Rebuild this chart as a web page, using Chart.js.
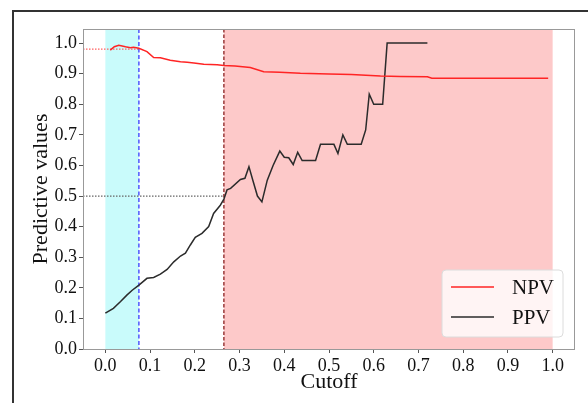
<!DOCTYPE html>
<html>
<head>
<meta charset="utf-8">
<script src="https://cdn.jsdelivr.net/npm/chart.js@4.4.1/dist/chart.umd.min.js"></script>
<style>
html, body { margin: 0; padding: 0; background: #fff; overflow: hidden; }
#frame { position: absolute; left: 12px; top: 10px; width: 700px; height: 500px; border: 2px solid #333; }
#chart { position: absolute; left: 0; top: 0; }
</style>
</head>
<body>
<div id="frame"></div>
<canvas id="chart" width="588" height="403"></canvas>
<script>
// values
const npvX = [0.011, 0.02, 0.03, 0.045, 0.056, 0.063, 0.075, 0.093, 0.108, 0.123, 0.145, 0.168, 0.183, 0.198, 0.22, 0.25, 0.265, 0.29, 0.324, 0.354, 0.39, 0.436, 0.5, 0.55, 0.615, 0.66, 0.72, 0.73, 0.8, 0.9, 0.99];
const npvY = [0.977, 0.988, 0.993, 0.988, 0.985, 0.986, 0.983, 0.972, 0.953, 0.952, 0.944, 0.939, 0.937, 0.935, 0.931, 0.929, 0.927, 0.925, 0.92, 0.906, 0.905, 0.901, 0.899, 0.897, 0.892, 0.891, 0.89, 0.885, 0.885, 0.885, 0.885];

const ppvX = [0.0, 0.018, 0.034, 0.048, 0.06, 0.075, 0.093, 0.108, 0.123, 0.138, 0.153, 0.168, 0.179, 0.19, 0.201, 0.216, 0.231, 0.242, 0.257, 0.265, 0.272, 0.28, 0.302, 0.312, 0.321, 0.33, 0.34, 0.35, 0.362, 0.375, 0.39, 0.40, 0.41, 0.42, 0.43, 0.44, 0.47, 0.481, 0.511, 0.52, 0.531, 0.541, 0.572, 0.582, 0.59, 0.60, 0.62, 0.63, 0.72];
const ppvY = [0.117, 0.133, 0.155, 0.176, 0.192, 0.209, 0.231, 0.234, 0.245, 0.26, 0.285, 0.304, 0.313, 0.34, 0.365, 0.378, 0.40, 0.443, 0.47, 0.49, 0.52, 0.525, 0.554, 0.558, 0.596, 0.55, 0.50, 0.481, 0.552, 0.60, 0.647, 0.627, 0.625, 0.603, 0.643, 0.616, 0.616, 0.669, 0.669, 0.639, 0.70, 0.669, 0.669, 0.716, 0.833, 0.80, 0.80, 1.0, 1.0];

const xTicks = [0.0, 0.1, 0.2, 0.3, 0.4, 0.5, 0.6, 0.7, 0.8, 0.9, 1.0];
const yTicks = [0.0, 0.1, 0.2, 0.3, 0.4, 0.5, 0.6, 0.7, 0.8, 0.9, 1.0];

const lowCut = 0.075;    // blue dashed line, end of cyan band
const highCut = 0.265;   // dark red dashed line, start of red band
const bandEnd = 1.0;
const npvAtLow = 0.98;
const ppvTarget = 0.5;

const SERIF = "'Liberation Serif', 'Times New Roman', serif";
const npvColor = '#ff2424';
const ppvColor = '#2b2b2b';

function toPoints(xs, ys) {
    return xs.map((x, i) => ({x: x, y: ys[i]}));
}

// bands and guide lines behind the curves
const bands = {
    id: 'bands',
    beforeDatasetsDraw(chart) {
        const {ctx, chartArea: a, scales: {x, y}} = chart;
        ctx.save();
        ctx.beginPath();
        ctx.rect(a.left, a.top, a.right - a.left, a.bottom - a.top);
        ctx.clip();

        ctx.fillStyle = '#c9fbfb';
        ctx.fillRect(x.getPixelForValue(0), a.top, x.getPixelForValue(lowCut) - x.getPixelForValue(0), a.bottom - a.top);
        ctx.fillStyle = '#fdc9c9';
        ctx.fillRect(x.getPixelForValue(highCut), a.top, x.getPixelForValue(bandEnd) - x.getPixelForValue(highCut), a.bottom - a.top);

        ctx.lineWidth = 1.3;
        // dotted horizontals
        ctx.setLineDash([1.5, 1.5]);
        ctx.strokeStyle = '#ff6060';
        ctx.beginPath();
        ctx.moveTo(a.left, y.getPixelForValue(npvAtLow));
        ctx.lineTo(x.getPixelForValue(lowCut), y.getPixelForValue(npvAtLow));
        ctx.stroke();
        ctx.strokeStyle = '#666';
        ctx.beginPath();
        ctx.moveTo(a.left, y.getPixelForValue(ppvTarget));
        ctx.lineTo(x.getPixelForValue(highCut), y.getPixelForValue(ppvTarget));
        ctx.stroke();

        // dashed verticals
        ctx.setLineDash([4, 2.5]);
        ctx.strokeStyle = '#3a3aff';
        ctx.beginPath();
        ctx.moveTo(x.getPixelForValue(lowCut), a.top);
        ctx.lineTo(x.getPixelForValue(lowCut), a.bottom);
        ctx.stroke();
        ctx.setLineDash([3.5, 2]);
        ctx.strokeStyle = '#8b2020';
        ctx.beginPath();
        ctx.moveTo(x.getPixelForValue(highCut), a.top);
        ctx.lineTo(x.getPixelForValue(highCut), a.bottom);
        ctx.stroke();
        ctx.restore();
    },
    afterDatasetsDraw(chart) {
        const {ctx, chartArea: a} = chart;
        ctx.save();
        ctx.strokeStyle = '#999';
        ctx.lineWidth = 1;
        ctx.strokeRect(a.left + 0.5, a.top + 0.5, a.right - a.left - 1, a.bottom - a.top);
        ctx.restore();
    }
};

// legend box in the lower right corner
const legendBox = {
    id: 'legendBox',
    afterDraw(chart) {
        const {ctx, chartArea: a} = chart;
        const w = 121, h = 67;
        const bx = a.right - 12 - w, by = a.bottom - 12 - h;
        ctx.save();
        ctx.beginPath();
        ctx.roundRect(bx, by, w, h, 4);
        ctx.fillStyle = 'rgba(255,255,255,0.8)';
        ctx.fill();
        ctx.strokeStyle = '#dcdcdc';
        ctx.lineWidth = 1;
        ctx.stroke();
        chart.data.datasets.forEach((ds, i) => {
            const ly = by + 17 + i * 30;
            ctx.beginPath();
            ctx.moveTo(bx + 9, ly);
            ctx.lineTo(bx + 52, ly);
            ctx.strokeStyle = ds.borderColor;
            ctx.lineWidth = 1.5;
            ctx.stroke();
            ctx.fillStyle = '#111';
            ctx.font = '21px ' + SERIF;
            ctx.textBaseline = 'middle';
            ctx.fillText(ds.label, bx + 70, ly + 1);
        });
        ctx.restore();
    }
};

let chartCtx = document.getElementById('chart');
let chartConfig = {
    type: 'scatter',
    data: {
        datasets: [{
            label: 'NPV',
            data: toPoints(npvX, npvY),
            showLine: true,
            borderColor: npvColor,
            borderWidth: 1.5,
            pointRadius: 0,
            tension: 0
        }, {
            label: 'PPV',
            data: toPoints(ppvX, ppvY),
            showLine: true,
            borderColor: ppvColor,
            borderWidth: 1.5,
            pointRadius: 0,
            tension: 0
        }]
    },
    options: {
        responsive: false,
        animation: false,
        layout: {padding: {left: 0, top: 29, right: 13, bottom: 0}},
        plugins: {legend: {display: false}, tooltip: {enabled: false}},
        scales: {
            x: {
                type: 'linear',
                min: -0.05,
                max: 1.05,
                afterFit: s => { s.height = 54; },
                afterBuildTicks: s => { s.ticks = xTicks.map(v => ({value: v})); },
                ticks: {
                    callback: v => v.toFixed(1),
                    font: {family: SERIF, size: 18},
                    color: '#111',
                    padding: 2,
                    maxRotation: 0,
                    autoSkip: false
                },
                grid: {drawOnChartArea: false, tickLength: 4, color: '#555'},
                border: {display: false},
                title: {display: true, text: 'Cutoff', font: {family: SERIF, size: 22}, color: '#111', padding: {top: 0, bottom: 8}}
            },
            y: {
                type: 'linear',
                min: 0,
                max: 1.046,
                afterFit: s => { s.width = 83; },
                afterBuildTicks: s => { s.ticks = yTicks.map(v => ({value: v})); },
                ticks: {
                    callback: v => v.toFixed(1),
                    font: {family: SERIF, size: 18},
                    color: '#111',
                    padding: 2,
                    autoSkip: false
                },
                grid: {drawOnChartArea: false, tickLength: 4, color: '#555'},
                border: {display: false},
                title: {display: true, text: 'Predictive values', font: {family: SERIF, size: 22}, color: '#111', padding: {top: 28, bottom: 0}}
            }
        }
    },
    plugins: [bands, legendBox]
};
let chart = new Chart(chartCtx, chartConfig);
</script>
</body>
</html>
